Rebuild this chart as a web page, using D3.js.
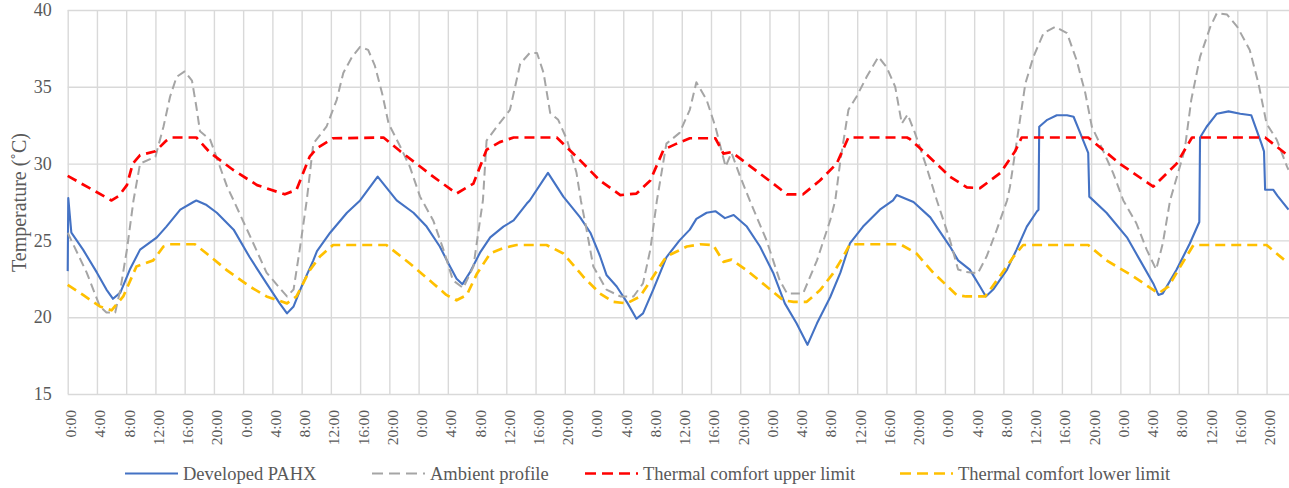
<!DOCTYPE html>
<html><head><meta charset="utf-8">
<script src="https://cdn.jsdelivr.net/npm/d3@7"></script>
<style>body{margin:0;background:#fff} svg text{font-family:"Liberation Serif","Times New Roman",serif}</style>
</head><body>
<svg id="c" width="1289" height="488"></svg>
<script>
// ---- data (hour of week, temperature °C) ----
const timeLabels = ["0:00","4:00","8:00","12:00","16:00","20:00"];
const days = 7;
const yTicks = [15,20,25,30,35,40];
const seriesNames = ["Developed PAHX","Ambient profile","Thermal comfort upper limit","Thermal comfort lower limit"];

const pahx = [[0,23.0],[0.08,27.75],[0.5,25.5],[2.1,24.4],[4.0,22.9],[5.3,21.8],[6.2,21.2],[7.2,21.6],[8.5,23.1],[9.9,24.4],[12.2,25.2],[13.5,25.9],[15.4,27.0],[17.2,27.5],[17.6,27.6],[19.0,27.3],[20.4,26.8],[22.7,25.7],[24.9,23.9],[27.2,22.2],[29.0,20.9],[30.0,20.25],[30.9,20.7],[32.0,22.0],[33.6,23.7],[34.1,24.3],[35.9,25.5],[38.2,26.8],[40.0,27.6],[42.4,29.15],[45.0,27.6],[47.3,26.8],[49.1,25.9],[50.9,24.6],[52.3,23.3],[53.2,22.5],[54.0,22.15],[55.0,22.9],[56.4,24.2],[57.8,25.2],[59.6,25.9],[61.0,26.3],[62.8,27.4],[63.2,27.6],[65.7,29.4],[67.8,27.85],[70.1,26.5],[71.5,25.5],[72.8,24.0],[73.7,22.75],[75.1,22.0],[76.6,20.9],[77.8,19.9],[78.7,20.25],[80.1,21.8],[81.9,23.9],[83.7,25.0],[85.1,25.7],[86.0,26.4],[87.4,26.8],[88.6,26.9],[89.9,26.45],[91.1,26.65],[92.9,25.9],[94.7,24.6],[96.5,22.9],[98.1,20.9],[99.7,19.6],[101.2,18.2],[102.5,19.6],[104.3,21.3],[105.7,22.9],[107.0,24.8],[108.8,25.9],[111.1,27.0],[112.9,27.6],[113.4,27.95],[115.7,27.5],[118.0,26.5],[120.7,24.6],[121.8,23.7],[123.4,23.1],[124.8,22.0],[125.6,21.35],[126.6,21.8],[128.5,23.1],[129.8,24.4],[131.2,25.9],[132.6,26.9],[132.8,27.0],[132.9,32.4],[134.0,32.85],[135.3,33.15],[136.7,33.15],[137.6,33.05],[138.5,32.0],[139.6,30.7],[139.75,27.85],[142.1,26.8],[144.9,25.2],[146.7,23.7],[148.5,22.2],[149.2,21.45],[149.8,21.55],[151.7,23.1],[153.5,24.8],[154.8,26.2],[154.9,31.7],[155.8,32.4],[157.2,33.25],[158.8,33.4],[160.4,33.25],[161.9,33.15],[163.3,31.3],[163.65,30.8],[163.8,28.3],[164.9,28.3],[165.5,27.9],[167,27.0]];

const ambient = [[0,25.5],[2.6,22.9],[4.4,20.7],[5.3,20.3],[6.5,20.3],[7.2,21.8],[8.1,24.4],[9.0,27.6],[9.9,30.0],[12.0,30.45],[13.1,32.4],[14.0,34.35],[14.9,35.65],[16.0,36.0],[17.0,35.4],[17.6,33.7],[18.1,32.1],[19.5,31.55],[21.8,28.5],[22.7,27.6],[25.4,24.8],[27.2,22.9],[30.0,21.35],[30.9,21.8],[31.8,24.6],[32.7,27.6],[33.6,31.3],[35.4,32.4],[36.8,34.15],[37.7,35.9],[38.9,36.95],[40.0,37.6],[41.1,37.4],[42.0,36.4],[43.0,34.6],[43.9,32.6],[45.5,31.1],[46.8,29.8],[48.2,27.85],[50.0,26.3],[51.4,24.4],[52.7,22.4],[54.1,21.9],[55.5,23.3],[56.4,26.3],[56.8,27.6],[57.3,31.5],[58.7,32.4],[60.5,33.5],[61.9,36.5],[63.2,37.2],[64.2,37.2],[65.1,35.9],[66.0,33.3],[67.1,32.85],[68.3,31.55],[69.6,29.4],[70.2,27.6],[70.9,25.9],[71.9,23.3],[73.7,21.8],[75.6,21.35],[77.4,21.35],[78.7,22.2],[79.7,24.4],[80.6,27.6],[81.9,31.3],[83.7,32.0],[85.1,33.5],[86.0,35.3],[87.4,34.15],[88.6,32.4],[90.0,29.8],[90.8,30.7],[92.0,29.15],[93.3,27.6],[95.6,25.0],[97.4,22.4],[98.4,21.55],[100.6,21.55],[102.5,23.7],[104.3,26.3],[105.0,27.6],[105.7,30.2],[106.8,33.5],[107.9,34.35],[109.3,35.65],[110.9,36.95],[112.0,36.3],[113.2,35.0],[114.1,32.6],[114.9,33.2],[115.9,32.0],[117.4,29.9],[118.9,27.6],[120.7,25.0],[121.8,23.1],[122.9,22.95],[124.5,22.85],[125.7,23.95],[127.1,25.7],[128.5,27.6],[128.9,28.5],[130.0,32.0],[131.0,35.2],[132.1,36.95],[133.5,38.5],[135.1,38.9],[136.7,38.5],[138.0,36.75],[139.2,34.6],[140.1,32.4],[141.2,31.3],[143.0,29.4],[144.4,27.6],[146.2,26.1],[147.6,24.4],[148.9,23.1],[149.8,24.8],[150.8,27.6],[152.8,30.9],[153.7,34.15],[154.9,36.95],[156.3,38.9],[157.2,39.8],[158.6,39.7],[160.0,38.9],[161.7,37.4],[162.9,35.2],[164.0,32.6],[165.4,31.55],[166.8,29.8],[167,29.6]];

const upperLimit = [[0,29.2],[3,28.4],[6.0,27.6],[7.0,27.9],[8.1,28.6],[8.9,30.0],[9.9,30.55],[12.0,30.8],[13.5,31.5],[14.2,31.7],[17.6,31.7],[19.5,30.7],[22.6,29.6],[25.9,28.6],[29.7,28.0],[31.3,28.3],[33.1,30.45],[34.1,31.0],[36.3,31.65],[43.2,31.7],[45.5,30.8],[50.0,29.15],[53.2,28.05],[55.5,28.7],[57.3,30.9],[59.1,31.4],[61.0,31.7],[66.9,31.7],[69.6,30.45],[72.8,28.9],[75.6,27.95],[77.8,28.05],[79.7,28.9],[81.5,30.9],[83.3,31.3],[85.1,31.65],[88.6,31.65],[89.7,30.65],[90.8,30.75],[92.9,30.0],[96.5,28.7],[98.4,28.0],[100.6,28.0],[102.9,28.9],[105.2,30.0],[106.8,31.7],[114.8,31.7],[115.2,31.6],[116.6,31.0],[120.7,29.15],[123.0,28.45],[124.8,28.4],[127.6,29.4],[129.6,30.8],[130.5,31.7],[139.6,31.7],[143.9,30.0],[148.5,28.5],[151.7,30.0],[153.8,31.7],[163.8,31.7],[167,30.5]];

const lowerLimit = [[0,22.1],[2.1,21.45],[4.4,20.7],[6.0,20.45],[7.6,21.35],[9.4,23.3],[11.7,23.7],[13.1,24.6],[14.0,24.75],[17.4,24.75],[19.0,24.15],[21.8,23.05],[24.9,22.0],[27.2,21.35],[30.0,20.9],[31.3,21.35],[33.1,23.05],[34.5,23.95],[36.3,24.7],[43.6,24.7],[46.8,23.5],[50.0,22.2],[51.8,21.45],[53.2,21.1],[54.6,21.45],[56.0,22.85],[57.8,24.15],[59.6,24.5],[61.4,24.7],[65.5,24.7],[67.8,24.15],[70.5,22.65],[72.8,21.55],[74.6,21.0],[76.5,20.9],[78.3,21.35],[80.1,22.65],[81.9,23.95],[84.7,24.6],[86.5,24.75],[88.3,24.7],[89.7,23.6],[90.8,23.75],[92.9,23.05],[95.6,22.0],[97.9,21.1],[99.3,21.0],[101.1,21.0],[102.9,21.75],[104.7,22.85],[106.1,23.95],[107.0,24.75],[113.9,24.75],[116.1,24.15],[118.4,22.9],[121.6,21.45],[122.9,21.35],[125.5,21.35],[127.5,22.65],[129.4,23.95],[130.7,24.7],[139.6,24.7],[142.1,23.7],[145.8,22.65],[149.2,21.55],[150.6,22.0],[152.2,23.3],[154.0,24.7],[164.0,24.7],[167,23.5]];

// ---- drawing ----
const svg = d3.select("#c");
const m = {left: 67.7, right: 1288.5, top: 10, bottom: 394};
const x = d3.scaleLinear().domain([0,167]).range([m.left, m.right]);
const y = d3.scaleLinear().domain([15,40]).range([m.bottom, m.top]);
const serif = "Liberation Serif";
const txt = "#595959";

// vertical gridlines
const tickVals = d3.range(0, days*24, 4);
const xGrid = svg.append("g").attr("transform", `translate(0,${m.bottom})`)
  .call(d3.axisBottom(x).tickValues(tickVals).tickSize(-(m.bottom-m.top)).tickFormat(""));
xGrid.select(".domain").remove();
xGrid.selectAll("line").attr("stroke", "#D9D9D9").attr("stroke-width", 1.4);

// horizontal gridlines + y labels
const yAx = svg.append("g").attr("transform", `translate(${m.left},0)`)
  .call(d3.axisLeft(y).tickValues(yTicks).tickSize(-(m.right-m.left+2)).tickPadding(16).tickFormat(d3.format("d")));
yAx.select(".domain").remove();
yAx.attr("font-family", null);
yAx.selectAll("line").attr("stroke", "#D9D9D9").attr("stroke-width", 1.4);
yAx.selectAll("text").style("font-family", serif).attr("font-size", 18).attr("fill", txt);

// x labels (rotated)
svg.append("g").selectAll("text").data(tickVals).join("text")
  .attr("transform", d => `translate(${x(d)+3},410) rotate(-90)`)
  .attr("text-anchor", "end").attr("dy", "0.35em")
  .style("font-family", serif).attr("font-size", 15.5).attr("fill", txt)
  .text((d,i) => timeLabels[i % timeLabels.length]);

// y title
svg.append("text").attr("transform", "translate(18.5,202.5) rotate(-90)")
  .attr("text-anchor", "middle").attr("dy", "0.35em")
  .style("font-family", serif).attr("font-size", 20).attr("fill", txt)
  .text("Temperature (˚C)");

// series
const line = d3.line().x(d => x(d[0])).y(d => y(d[1]));
const styles = [
  {data: pahx, color: "#4472C4", w: 2.1, dash: null},
  {data: ambient, color: "#A5A5A5", w: 2.0, dash: "9,5"},
  {data: upperLimit, color: "#FF0000", w: 2.7, dash: "10,6"},
  {data: lowerLimit, color: "#FFC000", w: 2.7, dash: "10,6"}
];
const plot = svg.append("g");
styles.forEach(s => {
  plot.append("path").datum(s.data).attr("d", line)
    .attr("fill", "none").attr("stroke", s.color).attr("stroke-width", s.w)
    .attr("stroke-dasharray", s.dash).attr("stroke-linejoin", "round");
});

// legend
const legX = [125, 372, 585, 900];
const leg = svg.append("g");
styles.forEach((s, i) => {
  leg.append("line").attr("x1", legX[i]).attr("x2", legX[i] + 53).attr("y1", 473.5).attr("y2", 473.5)
    .attr("stroke", s.color).attr("stroke-width", s.w).attr("stroke-dasharray", s.dash ? "11,6" : null);
  leg.append("text").attr("x", legX[i] + 58).attr("y", 473.5).attr("dy", "0.35em")
    .style("font-family", serif).attr("font-size", 18.5).attr("fill", txt).text(seriesNames[i]);
});
</script>
</body></html>
